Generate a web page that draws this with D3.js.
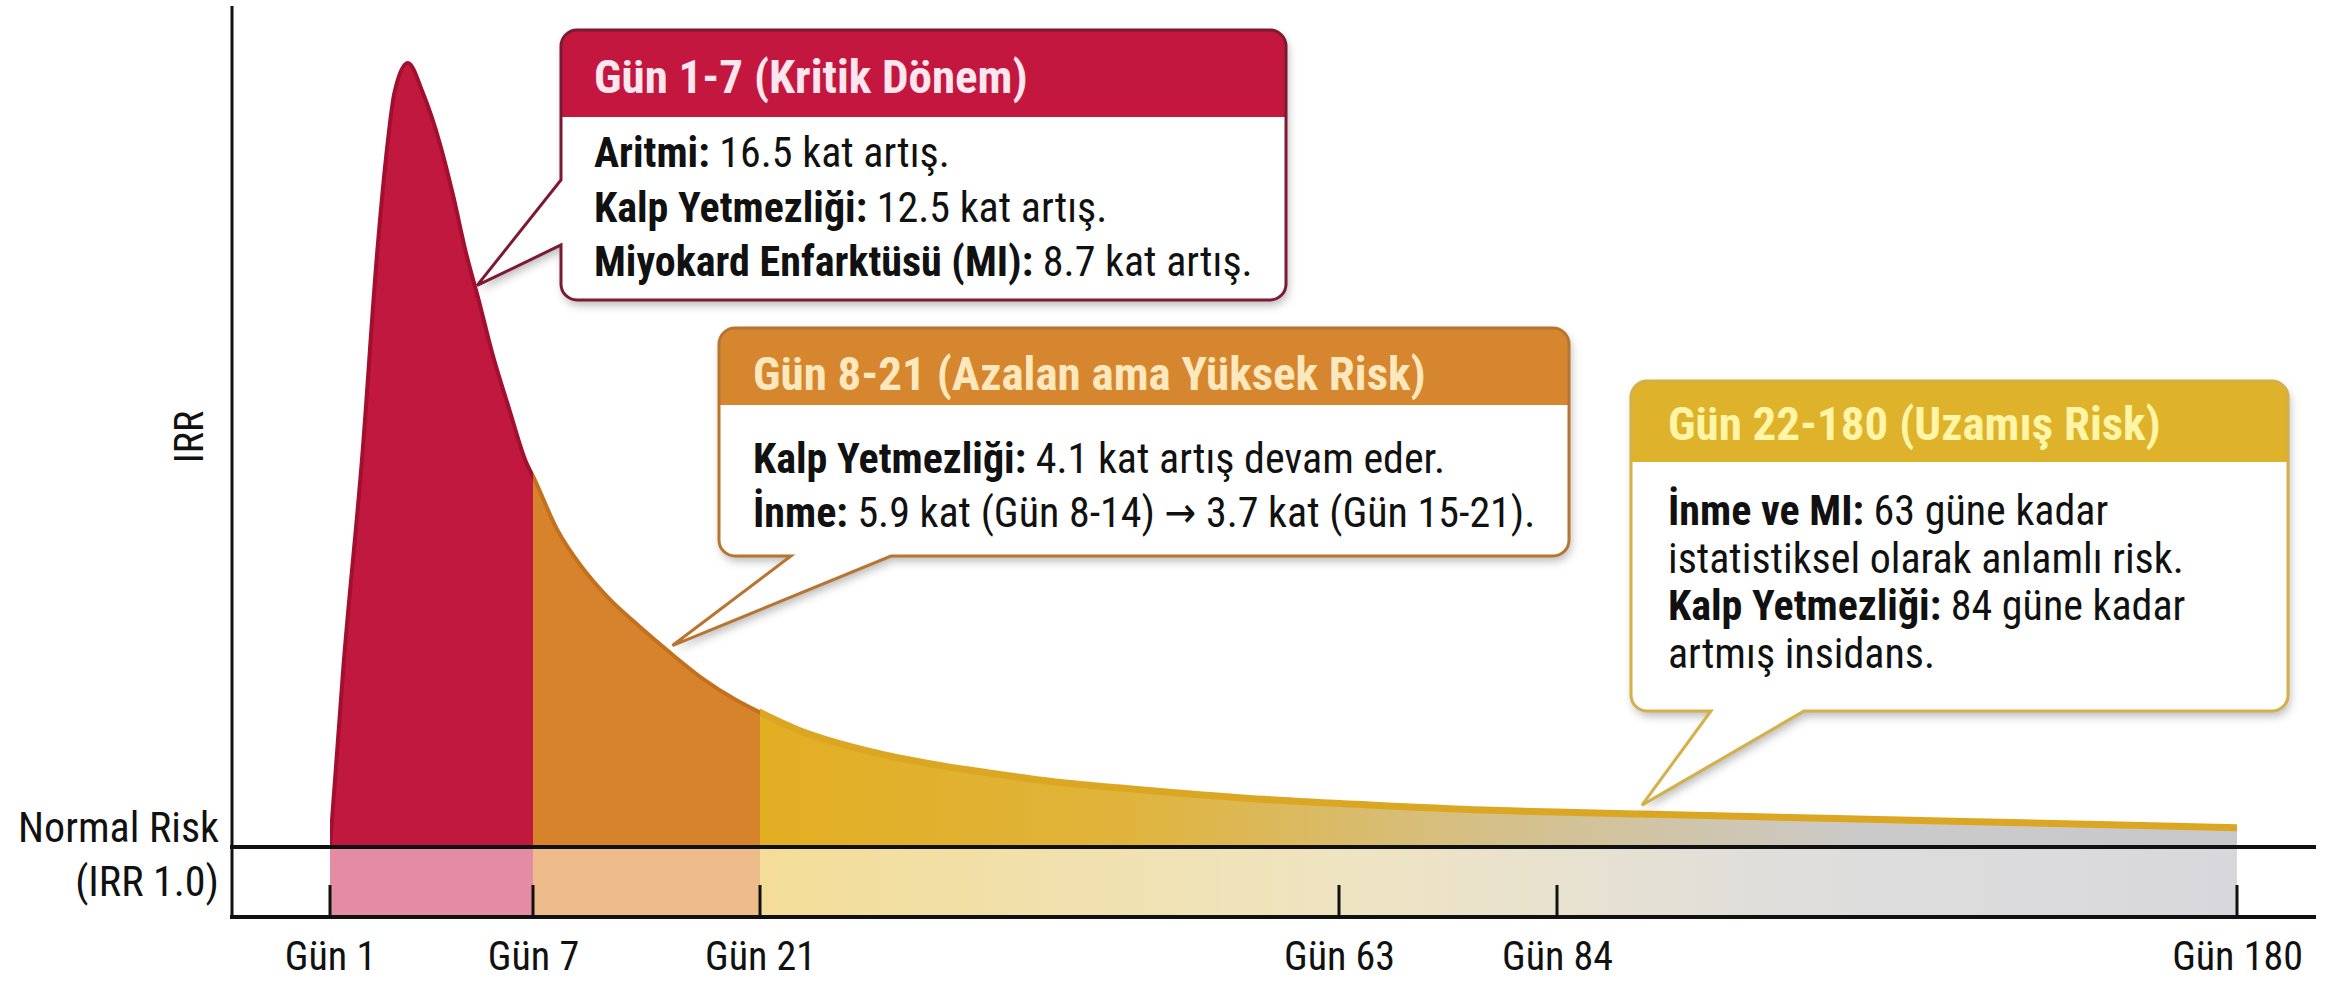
<!DOCTYPE html>
<html>
<head>
<meta charset="utf-8">
<script src="https://cdn.jsdelivr.net/npm/d3@7"></script>
<style>
  body { margin: 0; background: #fff; }
  text { font-family: "Roboto Condensed", "Liberation Sans Narrow", "Arial Narrow", "DejaVu Sans Condensed", Roboto, sans-serif; font-stretch: condensed; }
</style>
</head>
<body>
<div class="chart"></div>
<script>
// x axis ticks
var tickDays = [1, 7, 21, 63, 84, 180];
var tickLabels = ["Gün 1", "Gün 7", "Gün 21", "Gün 63", "Gün 84", "Gün 180"];

// risk curve (day, IRR)
var curveDays = [1, 1.4, 1.95, 2.4, 2.7, 2.9, 3.3, 3.75, 4.25, 4.65, 5, 5.4, 5.8, 6.3, 6.8, 7,
                 8.5, 10, 11.6, 13.6, 15.5, 17.5, 19.5, 21, 23.8, 28.5, 33, 37.7, 42.3, 47, 56, 66, 77, 84, 96, 140, 180];
var curveIRR  = [1, 4.6, 8.7, 12.8, 14.9, 15.9, 16.5, 15.9, 14.9, 13.85, 12.8, 11.8, 10.75, 9.65, 8.6, 8.33,
                 7.27, 6.54, 5.94, 5.35, 4.83, 4.32, 3.91, 3.66, 3.31, 2.92, 2.66, 2.46, 2.29, 2.17, 1.97, 1.83, 1.73, 1.69, 1.65, 1.51, 1.38];

// phases
var phaseStart = [1, 7, 21];
var phaseEnd = [7, 21, 180];
var phaseTitles = ["Gün 1-7 (Kritik Dönem)", "Gün 8-21 (Azalan ama Yüksek Risk)", "Gün 22-180 (Uzamış Risk)"];
var phaseLines = [
  [["Aritmi:", " 16.5 kat artış."], ["Kalp Yetmezliği:", " 12.5 kat artış."], ["Miyokard Enfarktüsü (MI):", " 8.7 kat artış."]],
  [["Kalp Yetmezliği:", " 4.1 kat artış devam eder."], ["İnme:", " 5.9 kat (Gün 8-14) → 3.7 kat (Gün 15-21)."]],
  [["İnme ve MI:", " 63 güne kadar"], ["", "istatistiksel olarak anlamlı risk."], ["Kalp Yetmezliği:", " 84 güne kadar"], ["", "artmış insidans."]]
];
// where each callout points on the curve
var pointerDays = [5.35, 15.6, 96];

var W = 2343, H = 981;
var fillMain = ["#c0183f", "#d6832c", "url(#yelTop)"];
var fillBand = ["#e58ca5", "#eebb8a", "url(#yelBand)"];
var strokeTop = ["#a30f2e", "#c4711f", "#dba722"];
var headFill = ["#c3173f", "#d5862f", "#dfb22c"];
var headText = ["#fde6ee", "#fde8bd", "#fff5a6"];
var border = ["#7d1a31", "#b87530", "#d3b048"];

// callout box layout
var boxes = [
  {x0: 561, y0: 30, x1: 1286, y1: 300, head: 117, side: "left", a: 180, b: 245, tx: 594, ty: [93, 167, 222, 276]},
  {x0: 719, y0: 328, x1: 1569, y1: 556, head: 405, side: "bottom", a: 791, b: 891, tx: 753, ty: [390, 473, 527]},
  {x0: 1631, y0: 381, x1: 2288, y1: 711, head: 462, side: "bottom", a: 1711, b: 1804, tx: 1668, ty: [440, 525, 573, 620, 668]}
];

var svg = d3.select(".chart").append("svg")
  .attr("width", W)
  .attr("height", H);

var x = d3.scaleLinear().domain(tickDays).range([330, 533, 760, 1339, 1557, 2237]);
var y = d3.scaleLinear().domain([0, 1, 16.5]).range([917, 847, 63]);

var data = curveDays.map(function(d, i) { return {day: d, irr: curveIRR[i]}; });

var defs = svg.append("defs");
var g1 = defs.append("linearGradient").attr("id", "yelTop")
  .attr("gradientUnits", "userSpaceOnUse").attr("x1", x(21)).attr("x2", x(180)).attr("y1", 0).attr("y2", 0);
[[0, "#e2ae22"], [0.25, "#e0b43c"], [0.5, "#d4c08a"], [0.75, "#cbcaca"], [1, "#c8c8cc"]].forEach(function(s) {
  g1.append("stop").attr("offset", s[0]).attr("stop-color", s[1]);
});
var g2 = defs.append("linearGradient").attr("id", "yelBand")
  .attr("gradientUnits", "userSpaceOnUse").attr("x1", x(21)).attr("x2", x(180)).attr("y1", 0).attr("y2", 0);
[[0, "#f3dd98"], [0.4, "#efe4c2"], [0.7, "#dfdedd"], [1, "#d8d8dc"]].forEach(function(s) {
  g2.append("stop").attr("offset", s[0]).attr("stop-color", s[1]);
});
var sh = defs.append("filter").attr("id", "shadow").attr("x", "-10%").attr("y", "-10%").attr("width", "120%").attr("height", "130%");
sh.append("feDropShadow").attr("dx", 2).attr("dy", 5).attr("stdDeviation", 5).attr("flood-color", "#000").attr("flood-opacity", 0.28);

phaseStart.forEach(function(s, i) {
  defs.append("clipPath").attr("id", "clip" + i)
    .append("rect")
    .attr("x", x(s)).attr("y", 0)
    .attr("width", x(phaseEnd[i]) - x(s))
    .attr("height", H);
});

var area = d3.area()
  .x(function(d) { return x(d.day); })
  .y0(y(1))
  .y1(function(d) { return y(d.irr); })
  .curve(d3.curveMonotoneX);
var line = d3.line()
  .x(function(d) { return x(d.day); })
  .y(function(d) { return y(d.irr); })
  .curve(d3.curveMonotoneX);

// bands under the normal line
svg.selectAll("rect.band")
  .data(phaseStart)
  .enter()
  .append("rect")
  .attr("class", "band")
  .attr("x", function(d) { return x(d); })
  .attr("y", y(1))
  .attr("width", function(d, i) { return x(phaseEnd[i]) - x(d); })
  .attr("height", y(0) - y(1))
  .style("fill", function(d, i) { return fillBand[i]; });

// phase areas
phaseStart.forEach(function(s, i) {
  var g = svg.append("g").attr("clip-path", "url(#clip" + i + ")");
  g.append("path").datum(data).attr("d", area).style("fill", fillMain[i]);
  g.append("path").datum(data).attr("d", line)
    .style("fill", "none")
    .style("stroke", strokeTop[i])
    .style("stroke-width", i == 2 ? 7 : 4)
    .style("stroke-linejoin", "round");
});

// axes
svg.append("line").attr("x1", 232).attr("x2", 232).attr("y1", 6).attr("y2", y(0) + 2)
  .style("stroke", "#111").style("stroke-width", 3);
svg.append("line").attr("x1", 230).attr("x2", 2316).attr("y1", y(1)).attr("y2", y(1))
  .style("stroke", "#111").style("stroke-width", 4);

var xAxis = d3.axisBottom(x)
  .tickValues(tickDays)
  .tickFormat(function(d, i) { return tickLabels[i]; })
  .tickSize(0)
  .tickPadding(25);
var ax = svg.append("g").attr("transform", "translate(0," + y(0) + ")").call(xAxis);
ax.select(".domain").remove();
ax.selectAll("text").style("font-size", "40px").style("fill", "#111");
svg.append("line").attr("x1", 230).attr("x2", 2316).attr("y1", y(0)).attr("y2", y(0))
  .style("stroke", "#111").style("stroke-width", 4);
svg.selectAll("line.tick")
  .data(tickDays)
  .enter()
  .append("line")
  .attr("class", "tick")
  .attr("x1", function(d) { return x(d); })
  .attr("x2", function(d) { return x(d); })
  .attr("y1", y(0) - 32)
  .attr("y2", y(0))
  .style("stroke", "#111")
  .style("stroke-width", 3);

// y labels
svg.append("text").attr("transform", "translate(203,437) rotate(-90)")
  .attr("text-anchor", "middle").style("font-size", "40px").style("fill", "#111").text("IRR");
svg.append("text").attr("x", 219).attr("y", 842).attr("text-anchor", "end")
  .style("font-size", "42px").style("fill", "#111").text("Normal Risk");
svg.append("text").attr("x", 219).attr("y", 896).attr("text-anchor", "end")
  .style("font-size", "42px").style("fill", "#111").text("(IRR 1.0)");

// callouts
function irrAt(day) {
  var i = d3.bisectLeft(curveDays, day);
  if (i <= 0) return curveIRR[0];
  var t = (day - curveDays[i - 1]) / (curveDays[i] - curveDays[i - 1]);
  return curveIRR[i - 1] + t * (curveIRR[i] - curveIRR[i - 1]);
}
function bubble(b, px, py) {
  var r = 16;
  var p = "M" + (b.x0 + r) + "," + b.y0 + " H" + (b.x1 - r) +
    " A" + r + "," + r + " 0 0 1 " + b.x1 + "," + (b.y0 + r) +
    " V" + (b.y1 - r) + " A" + r + "," + r + " 0 0 1 " + (b.x1 - r) + "," + b.y1;
  if (b.side == "bottom") p += " H" + b.b + " L" + px + "," + py + " L" + b.a + "," + b.y1;
  p += " H" + (b.x0 + r) + " A" + r + "," + r + " 0 0 1 " + b.x0 + "," + (b.y1 - r);
  if (b.side == "left") p += " V" + b.b + " L" + px + "," + py + " L" + b.x0 + "," + b.a;
  p += " V" + (b.y0 + r) + " A" + r + "," + r + " 0 0 1 " + (b.x0 + r) + "," + b.y0 + " Z";
  return p;
}

boxes.forEach(function(b, i) {
  var px = x(pointerDays[i]);
  var py = y(irrAt(pointerDays[i])) - 9;
  var d = bubble(b, px, py);
  var g = svg.append("g");
  defs.append("clipPath").attr("id", "bub" + i).append("path").attr("d", d);
  g.append("path").attr("d", d).style("fill", "#fff").attr("filter", "url(#shadow)");
  g.append("rect").attr("clip-path", "url(#bub" + i + ")")
    .attr("x", b.x0).attr("y", b.y0).attr("width", b.x1 - b.x0).attr("height", b.head - b.y0)
    .style("fill", headFill[i]);
  g.append("path").attr("d", d).style("fill", "none").style("stroke", border[i]).style("stroke-width", 3);
  g.append("text").attr("x", b.tx).attr("y", b.ty[0])
    .style("font-size", "47px").style("font-weight", "bold").style("fill", headText[i])
    .text(phaseTitles[i]);
  g.selectAll("text.body")
    .data(phaseLines[i])
    .enter()
    .append("text")
    .attr("class", "body")
    .attr("x", b.tx)
    .attr("y", function(d, j) { return b.ty[j + 1]; })
    .style("font-size", "42px")
    .style("fill", "#111")
    .each(function(d) {
      var t = d3.select(this);
      t.append("tspan").style("font-weight", "bold").text(d[0]);
      t.append("tspan").text(d[1]);
    });
});
</script>
</body>
</html>
